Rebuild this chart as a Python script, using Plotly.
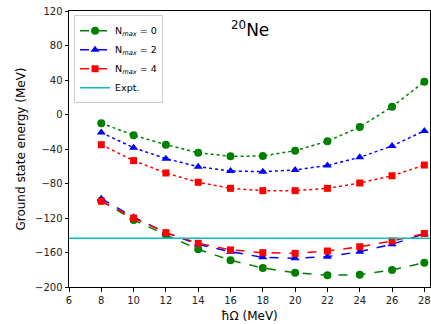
import plotly.graph_objects as go

hw = [8, 10, 12, 14, 16, 18, 20, 22, 24, 26, 28]

# upper (dotted) curves
n0_upper = [-10, -24, -35, -44.3, -48.5, -48.1, -42, -31, -14.5, 9, 38]
n2_upper = [-21, -38.5, -51.2, -60.5, -65.5, -66.3, -64.3, -59, -49.7, -36.5, -19]
n4_upper = [-35, -53.5, -67.8, -78.6, -85.6, -88.3, -88.3, -85.6, -79.4, -71, -58.6]

# lower (dashed) curves
n0_lower = [-100, -122.3, -139.7, -156.3, -169, -178, -183.4, -186.5, -185.7, -180.3, -171.8]
n2_lower = [-97.6, -119, -137, -150.5, -159, -165.6, -166.7, -164.8, -159, -150.5, -138.5]
n4_lower = [-100.5, -120, -137, -149.3, -157, -160.2, -161, -158.3, -153.3, -146.7, -138]

expt = -143.6

x_ticks = [6, 8, 10, 12, 14, 16, 18, 20, 22, 24, 26, 28]
y_ticks = [-200, -160, -120, -80, -40, 0, 40, 80, 120]

series = [
    ("N<sub><i>max</i></sub> = 0", "green", "circle", 8, n0_lower, n0_upper),
    ("N<sub><i>max</i></sub> = 2", "blue", "triangle-up", 8, n2_lower, n2_upper),
    ("N<sub><i>max</i></sub> = 4", "red", "square", 7, n4_lower, n4_upper),
]

fig = go.Figure()
for i, (name, col, sym, ms, low, up) in enumerate(series):
    fig.add_trace(go.Scatter(
        x=hw, y=up, mode="lines+markers", name=name, legendgroup=str(i),
        showlegend=False,
        line=dict(color=col, width=1.5, dash="dot"),
        marker=dict(color=col, symbol=sym, size=ms),
    ))
    fig.add_trace(go.Scatter(
        x=hw, y=low, mode="lines+markers", name=name, legendgroup=str(i),
        line=dict(color=col, width=1.5, dash="dash"),
        marker=dict(color=col, symbol=sym, size=ms),
    ))

fig.add_shape(type="line", xref="paper", yref="y", x0=0, x1=1, y0=expt, y1=expt,
              line=dict(color="#00bfbf", width=1.5), showlegend=True, name="Expt.")

fig.add_annotation(text="<sup>20</sup>Ne", xref="paper", yref="paper", x=0.5, y=0.935,
                   showarrow=False, font=dict(size=17, color="black"),
                   xanchor="center", yanchor="middle")

axis_common = dict(
    showline=True, linecolor="black", linewidth=1, mirror=True,
    ticks="outside", ticklen=3.5, tickwidth=1, tickcolor="black",
    showgrid=False, zeroline=False, tickfont=dict(size=10, color="#222"),
)

fig.update_xaxes(range=[6, 28.35], tickvals=x_ticks,
                 title=dict(text="ħΩ (MeV)", font=dict(size=12, color="black"), standoff=7),
                 **axis_common)
fig.update_yaxes(range=[-200, 120], tickvals=y_ticks,
                 title=dict(text="Ground state energy (MeV)", font=dict(size=12, color="black"), standoff=6),
                 **axis_common)

fig.update_layout(
    width=431, height=324,
    margin=dict(l=69, r=1, t=11, b=37),
    paper_bgcolor="white", plot_bgcolor="white",
    font=dict(family="DejaVu Sans", color="black"),
    legend=dict(x=0.014, y=0.985, xanchor="left", yanchor="top",
                bgcolor="rgba(255,255,255,0.8)", bordercolor="#cccccc", borderwidth=1,
                font=dict(size=9.5), tracegroupgap=0, itemwidth=30),
    showlegend=True,
)

fig.write_html(
    "out.html",
    config={"displayModeBar": False},
    post_script="document.body.style.margin='0';document.body.style.overflow='hidden';",
)
